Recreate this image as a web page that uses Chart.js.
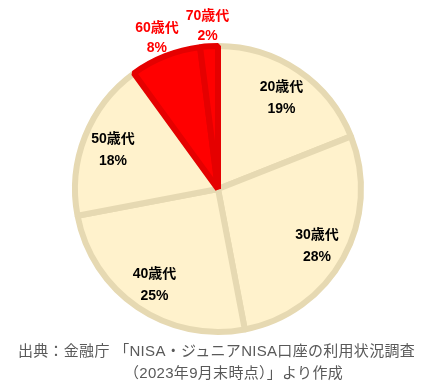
<!DOCTYPE html>
<html>
<head>
<meta charset="utf-8">
<script src="https://cdn.jsdelivr.net/npm/chart.js@4.4.1/dist/chart.umd.min.js"></script>
<style>
  html, body { margin: 0; padding: 0; background: #fff; }
  #wrap { position: relative; width: 431px; height: 388px; overflow: hidden; }
  #chartBox { position: absolute; left: 0; top: 0; width: 431px; height: 345px; }
  .src { position: absolute; left: 0; width: 431px; text-align: center; color: #595959;
         font-family: "Liberation Sans", "Noto Sans CJK JP", sans-serif; font-size: 15px; line-height: 22px;
         letter-spacing: 0.3px; white-space: nowrap; }
</style>
</head>
<body>
<div id="wrap">
  <div id="chartBox"><canvas id="c"></canvas></div>
  <div class="src" style="top:340px; padding-left:2px; box-sizing:border-box;">出典：金融庁 「NISA・ジュニアNISA口座の利用状況調査</div>
  <div class="src" style="top:362px; padding-left:36px; box-sizing:border-box;">（2023年9月末時点）」より作成</div>
</div>
<script>
const categories = ["20歳代", "30歳代", "40歳代", "50歳代", "60歳代", "70歳代"];
const values = [19, 28, 25, 18, 8, 2];
const percentLabels = ["19%", "28%", "25%", "18%", "8%", "2%"];
const highlighted = [false, false, false, false, true, true];

const fillColors = highlighted.map(h => h ? "#FF0000" : "#FFF2CC");
const borderColors = highlighted.map(h => h ? "#E50000" : "#E6D9B2");

const labelPlugin = {
  id: "sliceLabels",
  afterDatasetsDraw(chart) {
    const ctx = chart.ctx;
    const meta = chart.getDatasetMeta(0);
    ctx.save();
    ctx.font = 'bold 14px "Liberation Sans", "Noto Sans CJK JP", sans-serif';
    ctx.textAlign = "center";
    ctx.textBaseline = "middle";
    meta.data.forEach((arc, i) => {
      const p = arc.getProps(["x", "y", "startAngle", "endAngle", "outerRadius"], true);
      const mid = (p.startAngle + p.endAngle) / 2;
      const outside = highlighted[i];
      const d = outside ? p.outerRadius * 1.16 : p.outerRadius * 0.79;
      const half = outside ? 10 : 11;
      const cx = p.x + Math.cos(mid) * d;
      const cy = p.y + Math.sin(mid) * d + 3;
      ctx.fillStyle = outside ? "#FF0000" : "#000000";
      ctx.fillText(categories[i], cx, cy - half);
      ctx.fillText(percentLabels[i], cx, cy + half);
    });
    ctx.restore();
  }
};

new Chart(document.getElementById("c"), {
  type: "pie",
  data: {
    labels: categories,
    datasets: [{
      data: values,
      backgroundColor: fillColors,
      borderColor: borderColors,
      borderWidth: 6,
      hoverOffset: 0
    }]
  },
  options: {
    responsive: true,
    maintainAspectRatio: false,
    animation: false,
    layout: { padding: { top: 43, bottom: 10, left: 5, right: 0 } },
    plugins: {
      legend: { display: false },
      tooltip: { enabled: false }
    }
  },
  plugins: [labelPlugin]
});
</script>
</body>
</html>
